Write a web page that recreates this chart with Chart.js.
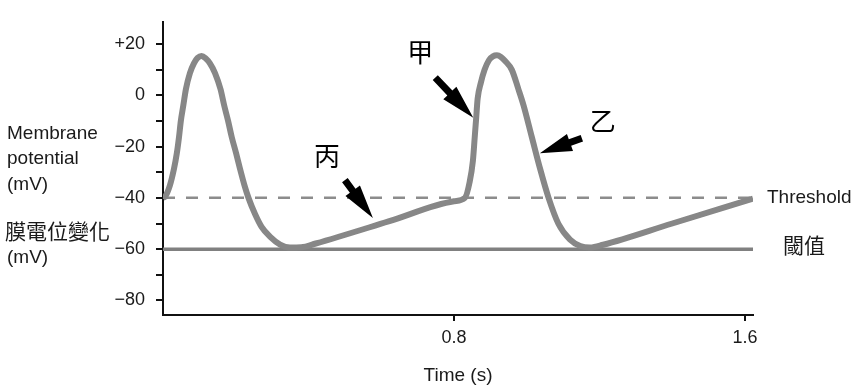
<!DOCTYPE html>
<html><head><meta charset="utf-8">
<script src="https://cdn.jsdelivr.net/npm/chart.js@4/dist/chart.umd.min.js"></script>
<style>html,body{margin:0;padding:0;background:#fff}</style>
</head><body>
<canvas id="c" width="862" height="390"></canvas>
<script>
// ---- data ----
const timeS = [0, 0.0055, 0.019, 0.030, 0.038, 0.044, 0.049, 0.056, 0.063, 0.074, 0.085, 0.095, 0.106, 0.117,
  0.129, 0.143, 0.158, 0.168, 0.179, 0.189, 0.201, 0.212, 0.224, 0.235, 0.253, 0.271, 0.294, 0.322, 0.349, 0.38, 0.42, 0.62, 0.80, 0.83,
  0.843, 0.852, 0.857, 0.861, 0.865, 0.874, 0.884, 0.896, 0.907, 0.918, 0.929,
  0.940, 0.959, 0.977, 0.991, 1.014, 1.037, 1.060, 1.087, 1.119, 1.147, 1.174, 1.21, 1.40, 1.622];
const membraneMv = [-40, -39.6, -35.1, -28.8, -22.6, -16.3, -10.0, -3.8, 2.45, 8.7, 12.5, 14.6, 15.4, 14.5,
  12.5, 8.7, 2.45, -3.8, -10.0, -16.3, -22.6, -28.8, -35.1, -40.0, -46.3, -51.3, -55.1, -58.2, -59.4, -59.3, -57.8, -49.2, -41.3, -40.0,
  -33.8, -25.5, -16.3, -8.8, -1.3, 5.0, 9.95, 13.7, 15.2, 15.6, 15.0,
  13.5, 9.95, 2.45, -3.8, -16.3, -28.8, -40.0, -50.1, -56.3, -58.8, -59.4, -58.3, -50.0, -40.3];
const thresholdMv = -40;
const restingMv = -60;
const xRange = [0, 1.622];
const yRange = [-85.7, 28.7];
const xTickValues = [0.8, 1.6];
const xTickLabels = ['0.8', '1.6'];
const yTickValues = [-80, -70, -60, -50, -40, -30, -20, -10, 0, 10, 20];
const yTickLabels = ['\u221280', '', '\u221260', '', '\u221240', '', '\u221220', '', '0', '', '+20'];
const markLabels = ['甲', '乙', '丙'];
const markTipT = [0.853, 1.036, 0.577];
const markTipMv = [-8.7, -22.6, -47.9];

const FAM = '"Liberation Sans", Arial, Helvetica, sans-serif';
const CJK = '"Noto Sans CJK TC", "Noto Sans CJK SC", sans-serif';

function drawArrow(ctx, tx, ty, sx, sy, headLen, headW, shaftW) {
  const dx = tx - sx, dy = ty - sy, L = Math.hypot(dx, dy);
  const ux = dx / L, uy = dy / L, px = -uy, py = ux;
  const bx = tx - ux * headLen, by = ty - uy * headLen;
  ctx.beginPath();
  ctx.moveTo(sx + px * shaftW / 2, sy + py * shaftW / 2);
  ctx.lineTo(bx + px * shaftW / 2, by + py * shaftW / 2);
  ctx.lineTo(bx + px * headW / 2, by + py * headW / 2);
  ctx.lineTo(tx, ty);
  ctx.lineTo(bx - px * headW / 2, by - py * headW / 2);
  ctx.lineTo(bx - px * shaftW / 2, by - py * shaftW / 2);
  ctx.lineTo(sx - px * shaftW / 2, sy - py * shaftW / 2);
  ctx.closePath();
  ctx.fill();
}

const annot = {
  id: 'annot',
  afterDraw(chart) {
    const { ctx, scales: { x, y } } = chart;
    ctx.save();
    ctx.fillStyle = '#1a1a1a';
    ctx.textBaseline = 'middle';
    ctx.textAlign = 'left';
    ctx.font = '19px ' + FAM;
    ctx.fillText('Membrane', 7, 134);
    ctx.fillText('potential', 7, 159);
    ctx.fillText('(mV)', 7, 185);
    ctx.fillText('(mV)', 7, 258);
    ctx.fillText('Threshold', x.right + 14, y.getPixelForValue(thresholdMv));
    ctx.font = '21px ' + CJK;
    ctx.fillText('膜電位變化', 5, 231);
    ctx.fillText('閾值', x.right + 30, y.getPixelForValue(restingMv) - 4);
    // arrows and hand labels
    const tails = [[-38, -40], [42, -15], [-28, -38]];
    const labs = [[-53, -66], [63, -32], [-46, -62]];
    const heads = [[34, 18], [32, 18], [34, 18]];
    ctx.fillStyle = '#000';
    ctx.textAlign = 'center';
    ctx.font = '26px ' + CJK;
    for (let i = 0; i < markLabels.length; i++) {
      const tx = x.getPixelForValue(markTipT[i]);
      const ty = y.getPixelForValue(markTipMv[i]);
      drawArrow(ctx, tx, ty, tx + tails[i][0], ty + tails[i][1], heads[i][0], heads[i][1], 7);
      ctx.fillText(markLabels[i], tx + labs[i][0], ty + labs[i][1]);
    }
    ctx.restore();
  }
};

new Chart(document.getElementById('c'), {
  type: 'line',
  data: {
    datasets: [
      {
        data: timeS.map((t, i) => ({ x: t, y: membraneMv[i] })),
        borderColor: '#878787', borderWidth: 6, pointRadius: 0,
        cubicInterpolationMode: 'monotone', fill: false
      },
      {
        data: xRange.map(t => ({ x: t, y: thresholdMv })),
        borderColor: '#8c8c8c', borderWidth: 2.5, borderDash: [12, 11], pointRadius: 0, fill: false
      },
      {
        data: xRange.map(t => ({ x: t, y: restingMv })),
        borderColor: '#808080', borderWidth: 3.5, pointRadius: 0, fill: false
      }
    ]
  },
  options: {
    responsive: false,
    animation: false,
    layout: { padding: { left: 0, right: 109, top: 10, bottom: 0 } },
    plugins: { legend: { display: false }, tooltip: { enabled: false } },
    scales: {
      x: {
        type: 'linear', min: xRange[0], max: xRange[1],
        border: { display: true, color: '#111', width: 2 },
        grid: { drawOnChartArea: false, drawTicks: true, tickLength: 6, color: '#111', lineWidth: 2 },
        ticks: { color: '#1a1a1a', font: { size: 18, family: FAM }, padding: 6, maxRotation: 0, autoSkip: false,
          callback: (v, i) => xTickLabels[i] },
        afterBuildTicks: (s) => { s.ticks = xTickValues.map(v => ({ value: v })); },
        afterFit: (s) => { s.height = 75; },
        title: { display: true, text: 'Time (s)', color: '#1a1a1a', font: { size: 19, family: FAM }, padding: { top: 0, bottom: 3 } }
      },
      y: {
        type: 'linear', min: yRange[0], max: yRange[1],
        border: { display: true, color: '#111', width: 2 },
        grid: { drawOnChartArea: false, drawTicks: true, tickLength: 7, color: '#111', lineWidth: 2 },
        ticks: { color: '#1a1a1a', font: { size: 18, family: FAM }, padding: 11, autoSkip: false,
          callback: (v, i) => yTickLabels[i] },
        afterBuildTicks: (s) => { s.ticks = yTickValues.map(v => ({ value: v })); },
        afterFit: (s) => { s.width = 163; }
      }
    }
  },
  plugins: [annot]
});
</script>
</body></html>
